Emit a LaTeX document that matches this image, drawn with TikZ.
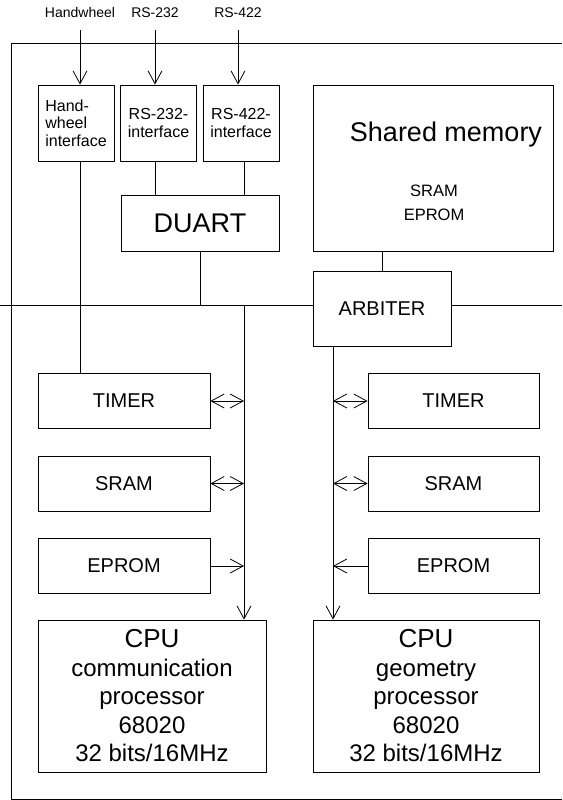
\documentclass[tikz,border=0pt]{standalone}
\usepackage{fontspec}
\setmainfont{Liberation Sans}
\usepackage{tikz}
\usetikzlibrary{arrows.meta}
\tikzstyle{iface} = [rectangle, minimum width=76pt, minimum height=76pt, inner sep=0pt, align=center, draw=black, font=\fontsize{16}{17.5}\selectfont]
\tikzstyle{big} = [rectangle, inner sep=0pt, align=center, draw=black]
\tikzstyle{unit} = [rectangle, minimum width=172pt, minimum height=55pt, inner sep=0pt, align=center, draw=black, font=\fontsize{20}{24}\selectfont]
\tikzstyle{cpu} = [rectangle, minimum width=228pt, minimum height=152pt, inner sep=0pt, align=center, draw=black, font=\fontsize{24}{28.5}\selectfont]
\tikzstyle{toplabel} = [anchor=base, inner sep=0pt, font=\fontsize{14}{16}\selectfont]
\tikzstyle{arrow} = [->, >={Straight Barb[length=13pt,width=14pt]}]
\tikzstyle{dblarrow} = [<->, >={Straight Barb[length=13pt,width=14pt]}]

\begin{document}
\begin{tikzpicture}[x=1pt, y=-1pt, node distance=82.5pt, line width=0.8pt]
	\useasboundingbox (0,0) rectangle (562,800);
	
	% board outline
	\draw (562,43) -- (11,43) -- (11,799) -- (562,799);
	
	\node (hwlabel) [toplabel] at (80,18) {Handwheel};
	\node (rs232label) [toplabel] at (155,18) {RS-232};
	\node (rs422label) [toplabel] at (238,18) {RS-422};
	
	\node (hwif) [iface, align=left] at (76,123) {Hand-\\wheel\\interface};
	\node (rs232if) [iface, right of=hwif] {RS-232-\\interface};
	\node (rs422if) [iface, right of=rs232if] {RS-422-\\interface};
	\node (duart) [big, minimum width=158pt, minimum height=56pt, font=\fontsize{27}{30}\selectfont] at (200,223) {DUART};
	
	\node (shmem) [big, minimum width=240pt, minimum height=166pt] at (433,168) {};
	\node (shmemtitle) [font=\fontsize{27}{30}\selectfont] at (446,135) {Shared memory};
	\node (shmemtypes) [align=center, font=\fontsize{16.5}{24}\selectfont] at (434,203) {SRAM\\EPROM};
	\node (arbiter) [big, minimum width=138pt, minimum height=75pt, font=\fontsize{20}{24}\selectfont] at (382,308.5) {ARBITER};
	
	\node (timerL) [unit] at (124,401) {TIMER};
	\node (sramL) [unit, below of=timerL] {SRAM};
	\node (epromL) [unit, below of=sramL] {EPROM};
	\node (timerR) [unit, minimum width=171pt] at (453.5,401) {TIMER};
	\node (sramR) [unit, minimum width=171pt, below of=timerR] {SRAM};
	\node (epromR) [unit, minimum width=171pt, below of=sramR] {EPROM};
	
	\node (cpuL) [cpu] at (152,696) {{\fontsize{26}{28.5}\selectfont CPU}\\communication\\processor\\68020\\32 bits/16MHz};
	\node (cpuR) [cpu, minimum width=226pt] at (426,696) {{\fontsize{26}{28.5}\selectfont CPU}\\geometry\\processor\\68020\\32 bits/16MHz};
	
	\coordinate (busW) at (0,305);
	\coordinate (busE) at (562,305);
	\coordinate (lbus) at (244,305);
	\coordinate (rbus) at (333,346);
	
	\draw [arrow] ([yshift=-12pt]hwlabel.base) -- (hwlabel.base |- hwif.north);
	\draw [arrow] ([yshift=-12pt]rs232label.base) -- (rs232label.base |- rs232if.north);
	\draw [arrow] ([yshift=-12pt]rs422label.base) -- (rs422label.base |- rs422if.north);
	
	\draw (hwlabel.base |- hwif.south) -- (hwlabel.base |- timerL.north);
	\draw (rs232label.base |- rs232if.south) -- (rs232label.base |- duart.north);
	\draw (lbus |- rs422if.south) -- (lbus |- duart.north);
	\draw (duart.south) -- (duart.south |- busW);
	\draw (shmem.south -| arbiter.north) -- (arbiter.north);
	\draw (busW) -- (busW -| arbiter.west);
	\draw (busE -| arbiter.east) -- (busE);
	
	\draw [arrow] (lbus) -- (lbus |- cpuL.north);
	\draw [arrow] (rbus) -- (rbus |- cpuR.north);
	\draw [dblarrow] (timerL.east) -- (timerL.east -| lbus);
	\draw [dblarrow] (sramL.east) -- (sramL.east -| lbus);
	\draw [arrow] (epromL.east) -- (epromL.east -| lbus);
	\draw [dblarrow] (timerR.west -| rbus) -- (timerR.west);
	\draw [dblarrow] (sramR.west -| rbus) -- (sramR.west);
	\draw [arrow] (epromR.west) -- (epromR.west -| rbus);
	
\end{tikzpicture}
\end{document}
